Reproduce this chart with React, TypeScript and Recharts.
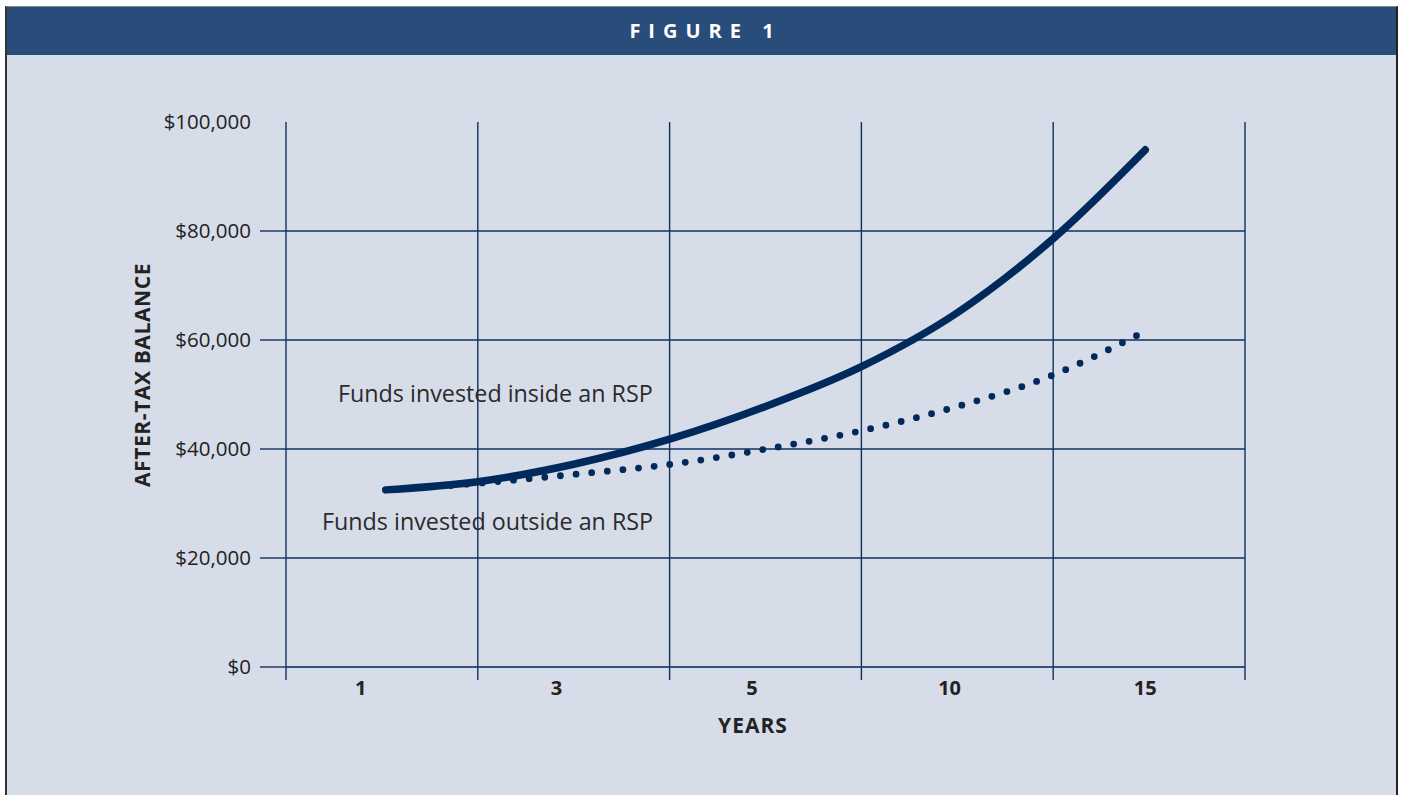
import { CartesianGrid, Line, LineChart, XAxis, YAxis } from "recharts"

// x positions are in grid units: 0..5 spans the six vertical gridlines
const gridTicks = [0, 1, 2, 3, 4, 5]
const yearLabels = ["1", "3", "5", "10", "15"]
const yearLabelPos = [0.39, 1.41, 2.43, 3.46, 4.48]

const balanceTicks = [0, 20000, 40000, 60000, 80000, 100000]
const gridValues = [0, 20000, 40000, 60000, 80000]

const insideX = [0.52, 1.0, 1.5, 2.0, 2.5, 3.0, 3.5, 4.0, 4.48]
const insideVals = [32500, 34000, 37200, 41800, 47800, 55100, 65000, 78600, 94900]

const outsideX = [0.86, 1.03, 1.52, 2.03, 2.52, 3.02, 3.5, 3.98, 4.44]
const outsideVals = [33300, 33800, 35400, 37300, 40100, 43500, 47800, 53300, 60900]

const insideData = insideX.map((x, i) => ({ x, v: insideVals[i] }))
const outsideData = outsideX.map((x, i) => ({ x, v: outsideVals[i] }))

const allXTicks = [...gridTicks, ...yearLabelPos].sort((a, b) => a - b)

const NAVY = "#002a5c"
const GRID = "#10305e"
const FONT = "'Open Sans', sans-serif"

const fmtMoney = (v: number) => "$" + v.toLocaleString("en-US")

function YTick(props: any) {
    const { x, y, payload } = props
    return (
        <g>
            {payload.value < 100000 && (
                <line x1={x + 9} x2={x + 35} y1={y} y2={y} stroke={GRID} strokeWidth={1.4} />
            )}
            <text x={x} y={y} dy="0.36em" textAnchor="end" fontSize={20.5} fill="#222" fontFamily={FONT}>
                {fmtMoney(payload.value)}
            </text>
        </g>
    )
}

// grid ticks get a short mark below the axis, label positions get the year text
function XTick(props: any) {
    const { x, y, payload } = props
    const li = yearLabelPos.indexOf(payload.value)
    if (li < 0) {
        return <line x1={x} x2={x} y1={y} y2={y + 13} stroke={GRID} strokeWidth={1.4} />
    }
    return (
        <text x={x} y={y + 14} dy="0.71em" textAnchor="middle" fontSize={20} fontWeight={700} fill="#222" fontFamily={FONT}>
            {yearLabels[li]}
        </text>
    )
}

export default function App() {
    return (
        <div style={{ position: "absolute", left: 0, top: 0, width: 1403, height: 795, background: "#fff", overflow: "hidden" }}>
            <div
                style={{
                    position: "absolute",
                    left: 5,
                    top: 6,
                    width: 1389,
                    height: 789,
                    background: "#d6dce8",
                    borderLeft: "2px solid #333",
                    borderRight: "2px solid #222",
                    borderTop: "1px solid #888",
                }}
            >
                <div
                    style={{
                        height: 48,
                        background: "#284d7a",
                        color: "#fff",
                        fontFamily: FONT,
                        fontWeight: 700,
                        fontSize: 20,
                        letterSpacing: 8,
                        lineHeight: "48px",
                        textAlign: "center",
                        paddingLeft: 8,
                    }}
                >
                    FIGURE 1
                </div>
            </div>

            <div style={{ position: "absolute", left: 0, top: 0 }}>
                <LineChart width={1403} height={795} margin={{ top: 122, right: 158, left: 156, bottom: 45 }}>
                    <CartesianGrid
                        stroke={GRID}
                        strokeWidth={1.4}
                        horizontalValues={gridValues}
                        verticalValues={gridTicks}
                    />
                    <XAxis
                        dataKey="x"
                        type="number"
                        domain={[0, 5]}
                        ticks={allXTicks}
                        interval={0}
                        height={83}
                        tickSize={0}
                        tickMargin={0}
                        tick={<XTick />}
                        tickLine={false}
                        axisLine={{ stroke: "#2f4f7e", strokeWidth: 1.6 }}
                    />
                    <YAxis
                        type="number"
                        domain={[0, 100000]}
                        ticks={balanceTicks}
                        interval={0}
                        width={130}
                        tickSize={26}
                        tickMargin={9}
                        axisLine={false}
                        tickLine={false}
                        tick={<YTick />}
                    />
                    <Line
                        data={insideData}
                        dataKey="v"
                        type="monotone"
                        stroke={NAVY}
                        strokeWidth={7.5}
                        strokeLinecap="round"
                        dot={false}
                        activeDot={false}
                        isAnimationActive={false}
                    />
                    <Line
                        data={outsideData}
                        dataKey="v"
                        type="monotone"
                        stroke={NAVY}
                        strokeWidth={6.8}
                        strokeDasharray="0 15.7"
                        strokeLinecap="round"
                        dot={false}
                        activeDot={false}
                        isAnimationActive={false}
                    />
                </LineChart>
            </div>

            <div style={{ position: "absolute", left: 338, top: 377, fontFamily: FONT, fontSize: 23.3, color: "#2a2a2a", whiteSpace: "nowrap" }}>
                Funds invested inside an RSP
            </div>
            <div style={{ position: "absolute", left: 322, top: 505, fontFamily: FONT, fontSize: 23.3, color: "#2a2a2a", whiteSpace: "nowrap" }}>
                Funds invested outside an RSP
            </div>
            <div
                style={{
                    position: "absolute",
                    left: 653,
                    top: 711,
                    width: 200,
                    textAlign: "center",
                    fontFamily: FONT,
                    fontSize: 21,
                    fontWeight: 700,
                    letterSpacing: 1,
                    color: "#222",
                }}
            >
                YEARS
            </div>
            <div
                style={{
                    position: "absolute",
                    left: 142 - 150,
                    top: 375 - 14,
                    width: 300,
                    height: 28,
                    lineHeight: "28px",
                    textAlign: "center",
                    transform: "rotate(-90deg)",
                    fontFamily: FONT,
                    fontSize: 21,
                    fontWeight: 700,
                    letterSpacing: 0.6,
                    color: "#222",
                }}
            >
                AFTER-TAX BALANCE
            </div>
        </div>
    )
}
